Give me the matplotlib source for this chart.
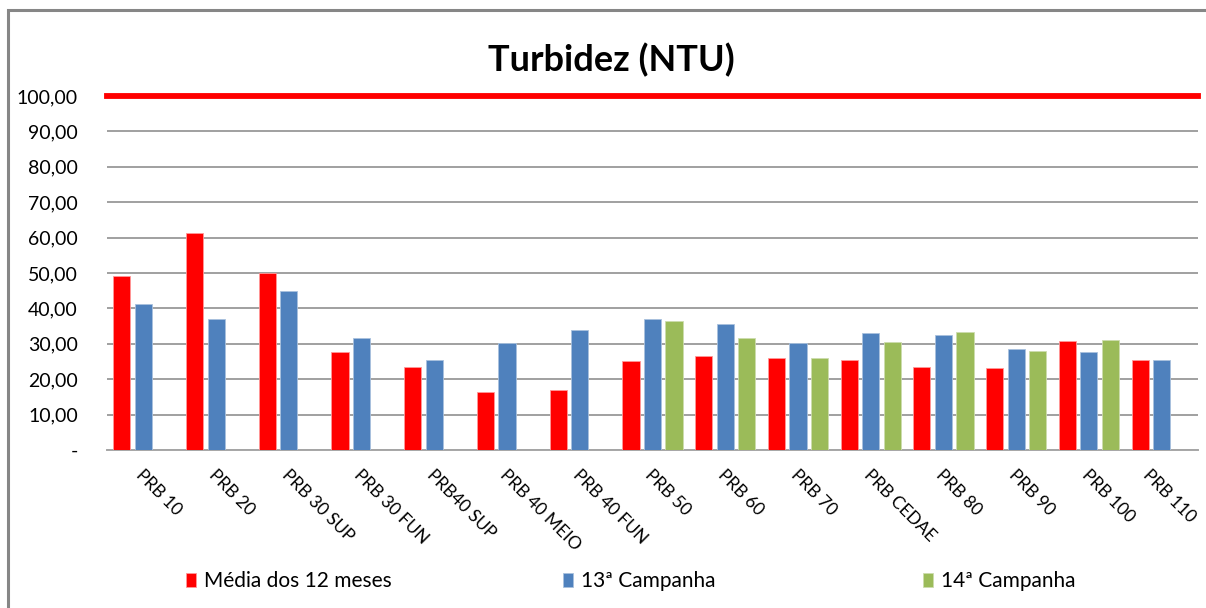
import matplotlib
matplotlib.use('Agg')
import matplotlib.pyplot as plt
import matplotlib.transforms as mtransforms
from matplotlib.patches import Rectangle
from matplotlib.ticker import FuncFormatter
import numpy as np

plt.rcParams['font.family'] = ['Lato', 'DejaVu Sans']

categories = ['PRB 10', 'PRB 20', 'PRB 30 SUP', 'PRB 30 FUN', 'PRB40 SUP', 'PRB 40 MEIO',
              'PRB 40 FUN', 'PRB 50', 'PRB 60', 'PRB 70', 'PRB CEDAE', 'PRB 80', 'PRB 90',
              'PRB 100', 'PRB 110']
media_12 = [49.1, 61.4, 50.1, 27.6, 23.4, 16.3, 17.0, 25.2, 26.5, 25.9, 25.5, 23.4, 23.1, 30.7, 25.5]
camp_13 = [41.2, 37.1, 45.0, 31.6, 25.5, 30.1, 34.0, 37.1, 35.5, 30.1, 33.0, 32.4, 28.5, 27.6, 25.5]
camp_14 = [None, None, None, None, None, None, None, 36.4, 31.6, 25.9, 30.6, 33.3, 27.9, 31.0, None]
limite = 100.0
yticks = [0, 10, 20, 30, 40, 50, 60, 70, 80, 90, 100]

fig = plt.figure(figsize=(12.06, 6.08), dpi=100)
ax = fig.add_axes([107/1206, 1 - 450/608, (1198-107)/1206, (450-96)/608])

x = np.arange(len(categories))
w = 0.235
step = 0.296
red, blue, green = '#ff0000', '#4f81bd', '#9bbb59'

h1 = ax.bar(x - step, media_12, w, color=red, edgecolor='#ff9999', linewidth=0.6, label='Média dos 12 meses', zorder=3)
h2 = ax.bar(x, camp_13, w, color=blue, edgecolor='#a9c1de', linewidth=0.6, label='13ª Campanha', zorder=3)
c14 = [np.nan if v is None else v for v in camp_14]
h3 = ax.bar(x + step, c14, w, color=green, edgecolor='#cddcae', linewidth=0.6, label='14ª Campanha', zorder=3)

ax.axhline(limite, color=red, lw=4.2, zorder=4, clip_on=False)

ax.set_xlim(-0.5, len(categories) - 0.5)
ax.set_ylim(0, 100)
ax.set_yticks(yticks)
ax.yaxis.set_major_formatter(FuncFormatter(lambda v, p: '-' if v == 0 else f'{v:.2f}'.replace('.', ',')))
ax.grid(axis='y', color='#868686', lw=1.1, zorder=0)
ax.tick_params(axis='y', length=0, pad=21, labelsize=14, colors='black')
for s in ['left', 'right', 'top']:
    ax.spines[s].set_visible(False)
ax.spines['bottom'].set_color('#a6a6a6')
ax.spines['bottom'].set_linewidth(1.4)

ax.set_xticks(x)
ax.set_xticklabels(categories, rotation=-45, ha='left', va='top', rotation_mode='anchor', fontsize=12.5)
ax.tick_params(axis='x', length=0, pad=12)
labels = ax.get_xticklabels()
for i, lbl in enumerate(labels):
    # last label pulled in a bit so it is not cut by the figure edge
    dx = 1 if i < len(labels) - 1 else -10
    lbl.set_transform(lbl.get_transform() + mtransforms.ScaledTranslation(dx/100, 0, fig.dpi_scale_trans))

fig.text(611/1206, 1 - 60/608, 'Turbidez (NTU)', ha='center', va='center', fontsize=26, fontweight='bold')

# legend entries placed one by one, like the original spacing
for h, px in zip([h1, h2, h3], [186, 563, 923]):
    fig.legend(handles=[h], loc='center left', bbox_to_anchor=(px/1206, 27/608), frameon=False,
               fontsize=15, handlelength=0.5, handleheight=0.65, handletextpad=0.35,
               borderpad=0, borderaxespad=0)

fig.patches.append(Rectangle((8/1206, -0.05), 1.1, 1 - 10/608 + 0.05, transform=fig.transFigure,
                             fill=False, edgecolor='#868686', lw=2.2))

fig.savefig('out.png', dpi=100)
